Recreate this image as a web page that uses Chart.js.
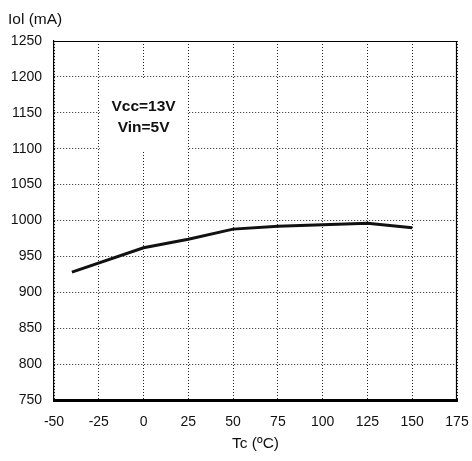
<!DOCTYPE html>
<html><head><meta charset="utf-8">
<script src="https://cdn.jsdelivr.net/npm/chart.js@4/dist/chart.umd.min.js"></script>
<style>html,body{margin:0;padding:0;background:#fff}#wrap{width:472px;height:461px}</style>
</head><body><div id="wrap"><canvas id="c" width="472" height="461"></canvas></div>
<script>
const temps = [-40, 0, 25, 50, 75, 100, 125, 150];
const iol = [928, 962, 974, 988, 992, 994, 996, 990];
const xTicks = [-50, -25, 0, 25, 50, 75, 100, 125, 150, 175];
const yTicks = [750, 800, 850, 900, 950, 1000, 1050, 1100, 1150, 1200, 1250];
const yTitle = 'Iol (mA)';
const xTitle = 'Tc (ºC)';
const noteLines = ['Vcc=13V', 'Vin=5V'];

const FONT = "'Liberation Sans', Arial, sans-serif";

const extras = {
  id: 'extras',
  beforeDatasetsDraw(chart) {
    const {ctx, chartArea: a, scales: {x, y}} = chart;
    ctx.save();
    const l = x.getPixelForValue(-25) + 1, r = x.getPixelForValue(25) - 1;
    const t = y.getPixelForValue(1197), b = y.getPixelForValue(1097);
    ctx.fillStyle = '#fff';
    ctx.fillRect(l, t, r - l, b - t);
    ctx.fillStyle = '#111';
    ctx.font = "bold 15.5px " + FONT;
    ctx.textAlign = 'center';
    ctx.textBaseline = 'middle';
    const cx = x.getPixelForValue(0);
    ctx.fillText(noteLines[0], cx, y.getPixelForValue(1158));
    ctx.fillText(noteLines[1], cx, y.getPixelForValue(1129));
    ctx.restore();
  },
  afterDraw(chart) {
    const {ctx, chartArea: a} = chart;
    ctx.save();
    ctx.strokeStyle = '#000';
    ctx.lineWidth = 1.2;
    ctx.beginPath();
    ctx.moveTo(a.left, a.top + 0.5);
    ctx.lineTo(a.right - 0.5, a.top + 0.5);
    ctx.lineTo(a.right - 0.5, a.bottom);
    ctx.stroke();
    ctx.fillStyle = '#111';
    ctx.font = "15.5px " + FONT;
    ctx.textAlign = 'left';
    ctx.textBaseline = 'middle';
    ctx.fillText(yTitle, 8, 20);
    ctx.restore();
  }
};

new Chart(document.getElementById('c'), {
  type: 'line',
  data: {
    datasets: [{
      data: temps.map((t, i) => ({x: t, y: iol[i]})),
      borderColor: '#111',
      borderWidth: 3,
      pointRadius: 0,
      tension: 0,
      fill: false
    }]
  },
  options: {
    responsive: false,
    animation: false,
    events: [],
    layout: {padding: {left: 0, right: 0, top: 41, bottom: 0}},
    plugins: {legend: {display: false}, tooltip: {enabled: false}},
    scales: {
      x: {
        type: 'linear', min: -50, max: 175,
        afterBuildTicks: s => { s.ticks = xTicks.map(v => ({value: v})); },
        afterFit: s => { s.height = 61; s.paddingRight = 15; s.paddingLeft = 12; },
        grid: {color: '#222', lineWidth: 1, drawTicks: false},
        border: {display: true, color: '#000', width: 3, dash: [1, 2]},
        ticks: {color: '#111', font: {family: FONT, size: 14}, padding: 14, maxRotation: 0, autoSkip: false, callback: v => String(v)},
        title: {display: true, text: xTitle, color: '#111', font: {family: FONT, size: 15.5}, padding: {top: 6, bottom: 8}}
      },
      y: {
        type: 'linear', min: 750, max: 1250,
        afterBuildTicks: s => { s.ticks = yTicks.map(v => ({value: v})); },
        afterFit: s => { s.width = 54; },
        grid: {color: '#222', lineWidth: 1, drawTicks: false},
        border: {display: true, color: '#000', width: 1.2, dash: [1, 2]},
        ticks: {color: '#111', font: {family: FONT, size: 14}, padding: 12, autoSkip: false, callback: v => String(v)}
      }
    }
  },
  plugins: [extras]
});
</script>
</body></html>
